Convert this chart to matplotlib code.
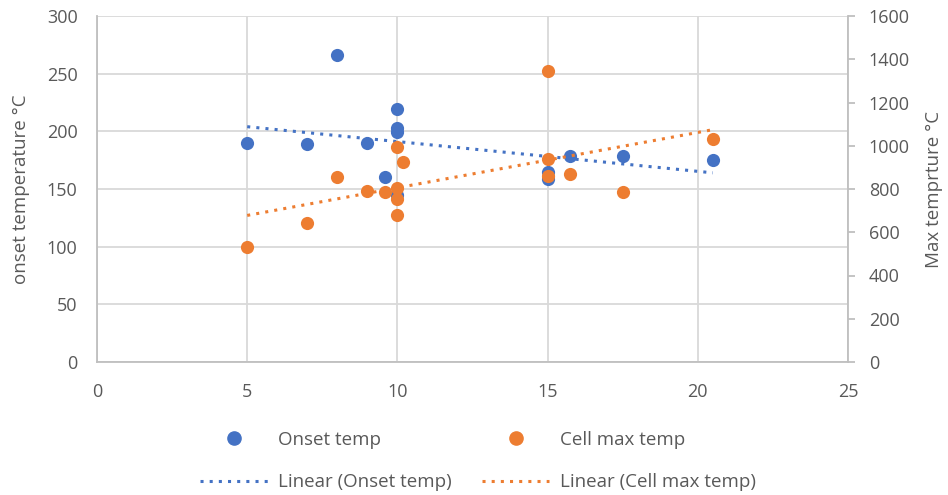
import numpy as np
import matplotlib
matplotlib.use("Agg")
import matplotlib.pyplot as plt
from matplotlib.lines import Line2D

plt.rcParams['font.family'] = ['Open Sans', 'DejaVu Sans']

onset_x = [5, 7, 8, 9, 9.6, 10, 10, 10, 10, 15, 15, 15.75, 17.5, 20.5]
onset_y = [190, 189, 266, 190, 160, 219, 203, 199, 145, 165, 159, 179, 179, 175]

cell_x = [5, 7, 8, 9, 9.6, 10, 10, 10, 10, 10.2, 15, 15, 15, 15.75, 17.5, 20.5]
cell_y = [532, 643, 855, 791, 786, 994, 805, 754, 680, 925, 1346, 939, 860, 869, 786, 1031]

x_ticks = [0, 5, 10, 15, 20, 25]
left_ticks = [0, 50, 100, 150, 200, 250, 300]
right_ticks = [0, 200, 400, 600, 800, 1000, 1200, 1400, 1600]

blue = '#4472C4'
orange = '#ED7D31'
grid = '#D9D9D9'
axis_col = '#BFBFBF'
txt = '#595959'

fig = plt.figure(figsize=(9.48, 4.95), dpi=100)
ax = fig.add_axes([97/948, 1-362/495, (848-97)/948, (362-16)/495])
ax2 = ax.twinx()

ax.set_xlim(0, 25)
ax.set_ylim(0, 300)
ax2.set_ylim(0, 1600)
ax.set_xticks(x_ticks)
ax.set_yticks(left_ticks)
ax2.set_yticks(right_ticks)

ax.grid(True, color=grid, linewidth=1.3)
ax.set_axisbelow(True)
for a in (ax, ax2):
    for s in a.spines.values():
        s.set_visible(False)
ax.spines['bottom'].set_visible(True)
ax.spines['bottom'].set_color(axis_col)
ax.spines['bottom'].set_linewidth(1.3)
ax.spines['left'].set_visible(True)
ax.spines['left'].set_color(axis_col)
ax.spines['left'].set_linewidth(1.3)
ax2.spines['right'].set_visible(True)
ax2.spines['right'].set_color(axis_col)
ax2.spines['right'].set_linewidth(1.3)

ax.tick_params(axis='x', length=0, colors=txt, labelsize=13, pad=15)
ax.tick_params(axis='y', length=0, colors=txt, labelsize=13, pad=14)
ax2.tick_params(axis='y', length=5, width=1.3, color=axis_col, labelcolor=txt,
                labelsize=13, pad=10, direction='out')

ms = 90
ax.scatter(onset_x, onset_y, s=ms, color=blue, zorder=3, linewidths=0)
ax2.scatter(cell_x, cell_y, s=ms, color=orange, zorder=3, linewidths=0)

# linear trendlines
def trend(xs, ys):
    p = np.polyfit(xs, ys, 1)
    xx = np.array([min(xs), max(xs)])
    return xx, np.polyval(p, xx)

ls = (0, (1, 2))
tx, ty = trend(onset_x, onset_y)
ax.plot(tx, ty, color=blue, linestyle=ls, linewidth=2.2, zorder=4)
tx2, ty2 = trend(cell_x, cell_y)
ax2.plot(tx2, ty2, color=orange, linestyle=ls, linewidth=2.2, zorder=4)

ax.set_ylabel('onset temperature °C', color=txt, fontsize=13.5, labelpad=12)
ax2.set_ylabel('Max temprture °C', color=txt, fontsize=13.5, labelpad=11)

handles = [
    Line2D([], [], marker='o', linestyle='none', color=blue, markersize=9.5),
    Line2D([], [], color=blue, linestyle=ls, linewidth=2.2),
    Line2D([], [], marker='o', linestyle='none', color=orange, markersize=9.5),
    Line2D([], [], color=orange, linestyle=ls, linewidth=2.2),
]
labels = ['Onset temp', 'Linear (Onset temp)', 'Cell max temp', 'Linear (Cell max temp)']
leg = fig.legend(handles, labels, ncol=2, loc='center', bbox_to_anchor=(478/948, 1-461/495),
                 frameon=False, fontsize=13.5, labelcolor=txt, handlelength=3.6,
                 columnspacing=1.6, handletextpad=0.55, labelspacing=1.3)

fig.savefig('out.png', dpi=100)
